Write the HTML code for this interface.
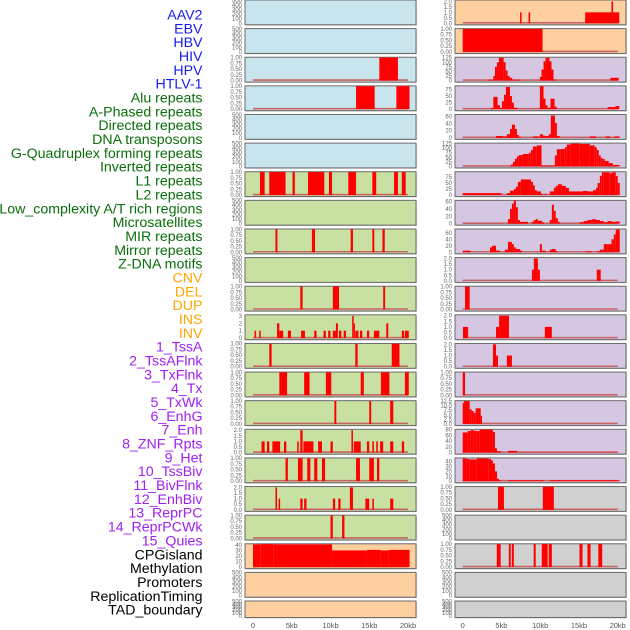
<!DOCTYPE html>
<html><head><meta charset="utf-8"><style>
html,body{margin:0;padding:0;background:#fff;}
svg{display:block;font-family:"Liberation Sans",sans-serif;}
</style></head><body>
<svg id="chart" width="630" height="630" viewBox="0 0 630 630" xmlns="http://www.w3.org/2000/svg"></svg>
<script>
const labels = ["AAV2","EBV","HBV","HIV","HPV","HTLV-1","Alu repeats","A-Phased repeats","Directed repeats","DNA transposons","G-Quadruplex forming repeats","Inverted repeats","L1 repeats","L2 repeats","Low_complexity A/T rich regions","Microsatellites","MIR repeats","Mirror repeats","Z-DNA motifs","CNV","DEL","DUP","INS","INV","1_TssA","2_TssAFlnk","3_TxFlnk","4_Tx","5_TxWk","6_EnhG","7_Enh","8_ZNF_Rpts","9_Het","10_TssBiv","11_BivFlnk","12_EnhBiv","13_ReprPC","14_ReprPCWk","15_Quies","CPGisland","Methylation","Promoters","ReplicationTiming","TAD_boundary"];
const labelGroups = [6,13,5,15,5];
const groupColors = ["#1a1aee","#0a6e0a","#ffa500","#a020f0","#000000"];
const xTicks = [0,5,10,15,20];
const xTickLabels = ["0","5kb","10kb","15kb","20kb"];

const E = [];
const L2 = [[16.3,18.7,1]];
const L3 = [[13.3,15.7,1],[18.5,20.2,1]];
const L6 = [[0.9,1.5,1],[2.1,4.2,1],[5.1,5.4,1],[7.1,9.2,1],[9.8,10.2,1],[12.3,13.3,1],[15.4,15.9,1],[18.2,18.7,1],[19.2,19.7,1]];
const L8 = [[2.9,3.15,1],[7.6,8.0,1],[12.6,12.9,1],[15.4,15.65,1],[16.7,17.0,1]];
const L10 = [[6.1,6.4,1],[10.3,11.1,1],[16.8,17.05,1]];
const L11 = [[0.2,0.4,1],[0.8,1.0,1],[3.1,3.4,2],[3.4,3.9,1],[4.5,4.9,1],[6.2,6.7,1],[7.9,8.2,1],[9.1,9.4,1],[9.7,10.0,1],[10.3,10.7,1],[10.7,10.95,2],[11.1,11.4,1],[11.7,12.0,1],[12.8,13.0,3],[13.0,13.1,2],[13.2,13.6,1],[13.8,14.1,1],[14.7,15.0,1],[15.6,16.3,1],[17.2,17.45,2],[19.2,19.5,1],[19.6,20.1,1]];
const L12 = [[2.1,2.4,1],[13.2,13.5,1],[17.9,18.9,1]];
const L13 = [[3.4,4.4,1],[6.6,7.3,1],[9.4,10.1,1],[13.9,14.3,1],[16.5,17.6,1],[19.6,20.1,1]];
const L14 = [[10.5,10.75,1],[15.0,15.25,1],[17.7,18.1,1]];
const L15 = [[1.1,1.5,1],[1.8,2.1,1],[2.5,3.5,1],[4.0,4.3,1],[5.7,5.9,1],[6.1,6.4,2],[6.5,7.8,1],[8.4,8.9,1],[10.0,10.3,1],[12.7,12.9,2],[13.0,13.9,1],[14.7,15.0,1],[15.4,15.6,1],[15.9,16.1,1],[16.4,16.8,1],[17.7,18.1,1],[19.2,19.5,1]];
const L16 = [[4.2,4.5,1],[5.8,6.4,1],[7.0,7.4,1],[7.9,8.3,1],[8.9,9.3,1],[13.3,13.8,1],[15.0,15.6,1],[16.0,16.3,1]];
const L17 = [[2.9,3.1,2],[3.3,3.5,1],[6.1,6.4,1],[6.6,6.9,1],[10.3,10.6,1],[11.0,11.3,1],[12.5,12.9,2],[14.5,15.0,1],[15.4,15.6,1],[17.7,18.1,1]];
const L18 = [[10.0,10.3,1],[11.5,11.8,1]];
const L19 = [[0,1,41],[1,2.6,41.5],[2.6,10.2,41],[10.2,14.7,30],[14.7,16.5,31],[16.5,17.5,30],[17.5,20.2,31]];

const R0 = [[7.4,7.6,1],[8.5,8.7,1],[15.8,19.2,1],[19.2,19.4,2],[19.4,20.2,1]];
const R1 = [[0,10.3,1]];
const R2 = [[3.3,3.95,5],[3.95,4.16,25],[4.16,4.42,75],[4.42,4.68,100],[4.68,5.28,125],[5.28,5.54,100],[5.54,5.79,55],[5.79,6.05,25],[6.05,6.39,15],[6.39,7.47,5],[9.96,10.17,20],[10.17,10.43,60],[10.43,10.69,105],[10.69,11.2,125],[11.2,11.46,105],[11.46,11.72,60],[11.72,12.1,5],[19.06,20.13,15]];
const R3 = [[3.65,3.95,5],[3.95,4.5,47],[4.5,4.8,15],[4.8,5.06,5],[5.06,5.32,30],[5.32,5.58,55],[5.58,6.1,85],[6.1,6.35,50],[6.35,6.6,25],[6.6,7.08,5],[9.96,10.43,88],[10.43,10.69,40],[10.69,10.94,15],[10.94,11.33,5],[11.33,11.85,40],[11.85,12.1,10],[18.7,19.7,8],[19.7,20.2,12]];
const R4 = [[4.3,5.2,5],[5.2,5.7,4],[5.7,6.1,10],[6.1,6.35,25],[6.35,6.74,37],[6.74,7.0,25],[7.0,7.25,8],[7.25,7.5,3],[9.06,9.83,4],[9.96,10.34,10],[10.34,10.6,6],[10.6,11.1,5],[11.1,11.37,10],[11.37,11.9,63],[11.9,12.15,42],[12.15,12.5,5],[16.4,17.2,4],[18.45,19.0,4],[19.6,20.26,4]];
const R5 = [[6.22,6.48,10],[6.48,6.74,25],[6.74,7.0,42],[7.0,7.25,55],[7.25,7.77,62],[7.77,8.54,68],[8.54,8.8,75],[8.8,9.06,90],[9.06,9.57,109],[9.57,10.17,115],[10.17,11.89,5],[11.89,12.15,60],[12.15,12.66,94],[12.66,13.18,95],[13.18,13.43,105],[13.43,13.95,120],[13.95,15.11,125],[15.11,16.4,123],[16.4,17.04,115],[17.04,17.3,105],[17.3,17.55,90],[17.55,17.81,60],[17.81,18.07,45],[18.07,18.33,40],[18.33,18.84,30],[18.84,19.36,18],[19.36,20.26,8]];
const R6 = [[0,5.0,8],[5.7,6.1,8],[6.1,6.6,18],[6.6,6.86,25],[6.86,7.12,35],[7.12,7.5,55],[7.5,8.8,65],[8.8,9.06,55],[9.06,9.3,40],[9.3,9.57,20],[9.57,10.1,15],[10.1,10.34,5],[10.6,10.85,5],[11.24,11.76,15],[11.76,12.0,30],[12.0,12.28,38],[12.28,12.8,45],[12.8,13.3,38],[13.3,13.7,30],[13.7,15.5,15],[15.5,16.1,17],[16.1,16.8,15],[16.8,17.2,20],[17.2,17.4,30],[17.4,17.7,50],[17.7,17.95,80],[17.95,18.2,95],[18.2,18.97,95],[18.97,19.2,90],[19.2,19.75,95],[19.75,20.0,80],[20.0,20.26,50]];
const R7 = [[5.84,6.1,12],[6.1,6.35,40],[6.35,6.6,55],[6.6,6.86,65],[6.86,7.12,45],[7.12,7.38,10],[7.38,8.41,5],[8.93,9.18,5],[9.18,9.44,10],[9.44,9.7,12],[9.7,10.2,8],[10.2,10.47,4],[11.24,11.5,10],[11.5,11.76,52],[11.76,12.0,35],[12.0,12.28,15],[12.28,12.53,5],[15.1,15.6,4],[15.6,16.1,7],[16.1,16.65,10],[16.65,17.2,12],[17.2,17.7,10],[17.7,18.2,7],[18.2,18.7,4],[18.7,19.2,7],[19.2,19.75,5],[19.75,20.26,6]];
const R8 = [[0,1.0,5],[3.52,3.78,15],[3.78,4.3,20],[4.3,4.8,5],[5.45,5.84,8],[5.84,6.35,32],[6.35,6.6,25],[6.6,6.86,15],[6.86,7.38,10],[7.38,7.64,5],[9.96,10.21,25],[10.21,10.73,5],[11.24,11.5,8],[11.5,12.0,10],[12.0,12.28,3],[15.88,16.65,3],[17.3,17.7,3],[17.7,18.2,8],[18.2,18.7,25],[18.7,19.2,25],[19.2,19.5,40],[19.5,19.75,55],[19.75,20.26,70]];
const R9 = [[8.93,9.18,1],[9.18,9.7,2],[9.7,9.96,1],[17.3,17.81,1]];
const R10 = [[0.3,0.9,1]];
const R11 = [[0.04,0.7,1],[4.3,4.7,1],[4.7,5.97,2],[10.6,11.5,1]];
const R12 = [[3.9,4.3,2],[4.3,4.55,1],[5.7,6.35,1]];
const R13 = [[0,0.3,1]];
const R14 = [[0,0.17,11.5],[0.17,0.9,12.5],[0.9,1.16,8],[1.16,1.42,7],[1.42,1.67,6],[1.67,2.32,8.5],[2.32,2.49,4.5]];
const R15 = [[0,0.64,70],[0.64,1.03,75],[1.03,1.42,78],[1.42,1.8,76],[1.8,2.19,75],[2.19,3.9,80],[3.9,4.16,72],[4.16,4.42,15],[4.42,4.94,5],[5.84,7.0,6],[7.0,20.13,1]];
const R16 = [[0,0.5,46],[0.5,0.9,45],[0.9,1.8,44],[1.8,3.3,46],[3.3,3.65,45],[3.65,3.9,42],[3.9,4.16,36],[4.16,4.42,20],[4.42,4.68,5],[4.68,4.94,2],[5.84,10.47,2],[11.24,20.26,2]];
const R17 = [[4.55,5.32,1],[10.34,11.76,1]];
const R19 = [[4.4,4.9,1],[5.95,6.2,1],[6.34,6.6,1],[9.16,9.42,1],[10.2,10.96,1],[11.1,11.5,1],[15.07,15.46,1],[16.1,16.5,1],[17.5,18.0,1]];

const T500 = [0,100,200,300,400,500];
const T1 = [0,0.25,0.5,0.75,1];
const T2 = [0,0.5,1,1.5,2];
const T3 = [0,1,2,3];
const T40 = [0,10,20,30,40];
const T125 = [0,25,50,75,100,125];
const T75 = [0,25,50,75];
const T60 = [0,20,40,60];
const T80 = [0,20,40,60,80];
const T12 = [0,2.5,5,7.5,10,12.5];

const BLUE="#c8e4ec",GREEN="#c8e1a3",ORANGE="#fecf9f",LAV="#d5c6e2",GRAY="#d0d0d0";
const panels = [
 [0,0,BLUE,E,500,T500,0],[0,1,BLUE,E,500,T500,0],[0,2,BLUE,L2,1,T1,2],[0,3,BLUE,L3,1,T1,2],
 [0,4,BLUE,E,500,T500,0],[0,5,BLUE,E,500,T500,0],[0,6,GREEN,L6,1,T1,2],[0,7,GREEN,E,500,T500,0],
 [0,8,GREEN,L8,1,T1,2],[0,9,GREEN,E,500,T500,0],[0,10,GREEN,L10,1,T1,2],[0,11,GREEN,L11,3.1,T3,0],
 [0,12,GREEN,L12,1,T1,2],[0,13,GREEN,L13,1,T1,2],[0,14,GREEN,L14,1,T1,2],[0,15,GREEN,L15,2.05,T2,1],
 [0,16,GREEN,L16,1,T1,2],[0,17,GREEN,L17,2.05,T2,1],[0,18,GREEN,L18,1,T1,2],[0,19,ORANGE,L19,41.5,T40,0],
 [0,20,ORANGE,E,500,T500,0],[0,21,ORANGE,E,500,T500,0],
 [1,0,ORANGE,R0,2.1,T2,1],[1,1,ORANGE,R1,1,T1,2],[1,2,LAV,R2,126,T125,0],[1,3,LAV,R3,88,T75,0],
 [1,4,LAV,R4,65,T60,0],[1,5,LAV,R5,126,T125,0],[1,6,LAV,R6,96,T75,0],[1,7,LAV,R7,63,T60,0],
 [1,8,LAV,R8,71,T60,0],[1,9,LAV,R9,2.05,T2,1],[1,10,LAV,R10,1,T1,2],[1,11,LAV,R11,2.05,T2,1],
 [1,12,LAV,R12,2.05,T2,1],[1,13,LAV,R13,1,T1,2],[1,14,LAV,R14,12.5,T12,1],[1,15,LAV,R15,80,T80,0],
 [1,16,LAV,R16,46.5,T40,0],[1,17,GRAY,R17,1,T1,2],[1,18,GRAY,E,500,T500,0],[1,19,GRAY,R19,1,T1,2],
 [1,20,GRAY,E,500,T500,0],[1,21,GRAY,E,500,T500,0]
];

const svg = document.getElementById('chart');
const NS = "http://www.w3.org/2000/svg";
function mk(tag, attrs, parent){ const e=document.createElementNS(NS,tag); for(const k in attrs) e.setAttribute(k,attrs[k]); (parent||svg).appendChild(e); return e; }
const colX0=[245,455], colW=171, zero=[253,462.7], pxPerKb=7.75;
function xScale(col,kb){ return zero[col]+kb*pxPerKb; }
function rowTop(r){ return r*28.62; }

let li=0;
labelGroups.forEach((n,g)=>{ for(let k=0;k<n;k++){ const t=mk('text',{x:202.5,y:19.5+li*13.84,'text-anchor':'end','font-size':14.2,fill:groupColors[g]}); t.textContent=labels[li];
 
  li++; } });

panels.forEach((p,idx)=>{
 const [col,row,bg,data,ymax,ticks,dec]=p;
 const top=rowTop(row), h=(row===21)?16.5:24.8;
 const base=top+h-1.5, span=h-1.8;
 const yS=v=>base-(v/ymax)*span;
 const g=mk('g',{});
 
 
 mk('rect',{x:colX0[col]+0.8,y:top+0.8,width:colW,height:h,fill:'#bdbdbd'},g);
 mk('rect',{x:colX0[col],y:top,width:colW,height:h,fill:bg,stroke:'#6a6a6a','stroke-width':1},g);
 ticks.forEach(v=>{ const t=mk('text',{x:colX0[col]-3,y:yS(v)+2,'text-anchor':'end','font-size':6,fill:'#666'},g); t.textContent=v.toFixed(dec);
    });
 if(data.length){
  const bl=mk('line',{x1:xScale(col,0),x2:xScale(col,20),y1:base-0.5,y2:base-0.5,stroke:'#c86464','stroke-width':1.6},g);
   
 }
 data.forEach(d=>{ const x1=xScale(col,d[0]), x2=xScale(col,d[1]); const y=Math.max(top,yS(d[2]));
  const r=mk('rect',{x:x1,y:y,width:Math.max(1.2,x2-x1),height:base-y,fill:'#ff0000'},g);
    });
});

[0,1].forEach(col=>{ xTicks.forEach((v,i)=>{ const t=mk('text',{x:xScale(col,v),y:628,'text-anchor':'middle','font-size':7.5,fill:'#555'}); t.textContent=xTickLabels[i];
   }); });
</script>
</body></html>
